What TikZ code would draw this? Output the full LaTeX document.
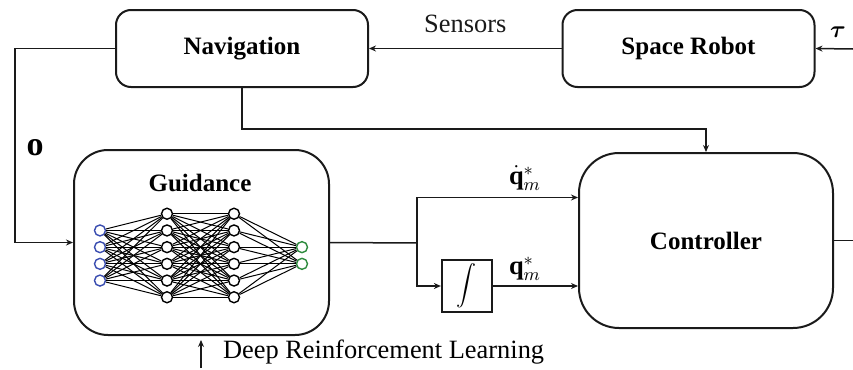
\documentclass[tikz,border=0pt]{standalone}
\usepackage{amsmath,amssymb}
\usepackage{fontspec}
\setmainfont{Liberation Serif}
\usetikzlibrary{arrows.meta,positioning,calc}
\definecolor{inblue}{HTML}{3A4DB0}
\definecolor{outgreen}{HTML}{2E8B3E}
\definecolor{linegray}{HTML}{1A1A1A}

\begin{document}
\begin{tikzpicture}[
    x=0.5pt, y=-0.5pt,
    box/.style={
        rectangle, draw=linegray, line width=1pt,
        rounded corners=7.5pt, inner sep=0pt,
        minimum width=126pt, minimum height=38.5pt,
        font=\fontsize{12.5}{14}\selectfont\bfseries,
    },
    bigbox/.style={box, minimum width=127.5pt, minimum height=92.5pt, rounded corners=17pt},
    ctrlbox/.style={box, minimum width=127pt, minimum height=87.5pt, rounded corners=20pt},
    intbox/.style={rectangle, draw=linegray, line width=0.8pt, minimum width=25pt, minimum height=26pt, inner sep=0pt},
    neuron/.style={circle, draw=#1, fill=white, line width=0.7pt, minimum size=5.5pt, inner sep=0pt},
    synapse/.style={line width=0.5pt},
    arr/.style={-{Stealth[length=3.5pt,width=3pt]}, line width=0.75pt, color=linegray},
    wire/.style={line width=0.75pt, color=linegray},
    lbl/.style={font=\fontsize{13.2}{15}\selectfont},
]
\useasboundingbox (0,0) rectangle (853,370);

% Top row: navigation and robot
\node[box] (nav) at (242,48.5) {Navigation};
\node[box] (robot) at (688.5,48.5) {Space Robot};
\coordinate (tauin) at (853,49);

% Middle row: guidance, integrator and controller
\node[bigbox] (guid) at (201.5,242.5) {};
\node[font=\fontsize{12.5}{14}\selectfont\bfseries] (guidtitle) at (200,183) {Guidance};
\node[ctrlbox] (ctrl) at (706,240.5) {Controller};
\node[intbox] (integ) at (466.7,286) {\fontsize{10}{12}\selectfont$\displaystyle\int$};
\coordinate (branch) at (417,243);
\coordinate (ctrlout) at (853,240.5);

% Policy network inside the guidance box
\def\nstep{16.7}
\foreach \i in {1,...,4}
    \node[neuron=inblue] (in\i) at (100,{255.5+(\i-2.5)*\nstep}) {};
\foreach \i in {1,...,6} {
    \node[neuron=black] (ha\i) at (167,{255.5+(\i-3.5)*\nstep}) {};
    \node[neuron=black] (hb\i) at (234,{255.5+(\i-3.5)*\nstep}) {};
}
\foreach \i in {1,2}
    \node[neuron=outgreen] (out\i) at (302,{255.5+(\i-1.5)*\nstep}) {};
\foreach \i in {1,...,4}
    \foreach \j in {1,...,6}
        \draw[synapse] (in\i) -- (ha\j);
\foreach \i in {1,...,6}
    \foreach \j in {1,...,6}
        \draw[synapse] (ha\i) -- (hb\j);
\foreach \i in {1,...,6}
    \foreach \j in {1,2}
        \draw[synapse] (hb\i) -- (out\j);

% Arrows -- top loop
\draw[arr] (robot.west) -- (nav.east)
    node[lbl, midway, above=4pt] (sens) {Sensors};
\draw[arr] (tauin) -- (robot.east);
\node[lbl] (tau) at (838,32) {$\boldsymbol{\tau}$};
\draw[arr] (nav.south) -- ++(0,41) -| (ctrl.north);
\draw[arr] (nav.west) -- ++(-100,0) |- (guid.west);
\node[font=\fontsize{17}{19}\selectfont] (obs) at (35,148) {$\mathbf{o}$};

% Arrows -- guidance to controller
\draw[wire] (guid.east) -- (branch);
\draw[arr] (branch) |- ([yshift=21.5pt]ctrl.west);
\draw[arr] (branch) |- (integ.west);
\draw[arr] (integ.east) -- (integ.east -| ctrl.west);
\node[lbl] (qdot) at (525,178) {$\dot{\mathbf{q}}_{m}^{*}$};
\node[lbl] (qref) at (525,269) {$\mathbf{q}_{m}^{*}$};
\draw[wire] (ctrl.east) -- (ctrlout);

% Training signal
\coordinate (drlfoot) at (201,368);
\draw[arr, shorten >=2pt] (drlfoot) -- (drlfoot |- guid.south);
\node[lbl, anchor=west] (drl) at (216,352) {Deep Reinforcement Learning};

\end{tikzpicture}
\end{document}
